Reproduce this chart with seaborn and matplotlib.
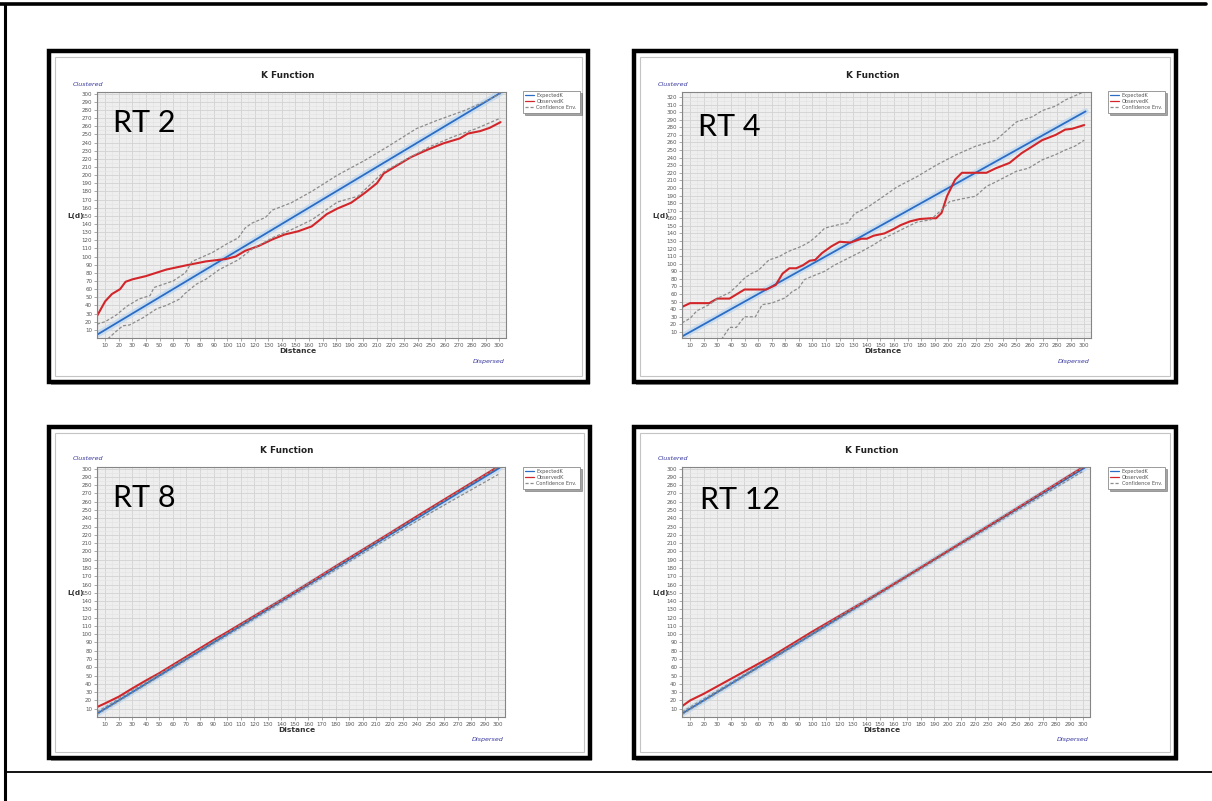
import matplotlib
matplotlib.use("Agg")
import matplotlib.pyplot as plt
from matplotlib.patches import Rectangle
from matplotlib.lines import Line2D
import seaborn as sns

# ---------------- data ----------------
panel_names = ["RT 2", "RT 4", "RT 8", "RT 12"]
legend_labels = ["ExpectedK", "ObservedK", "Confidence Env."]
x_ticks = list(range(10, 301, 10))
y_ticks_300 = list(range(10, 301, 10))
y_ticks_320 = list(range(10, 321, 10))

# RT 2
rt2_exp_x = [4, 301]
rt2_exp_y = [4, 301]
rt2_obs_x = [4, 10, 15, 21, 25, 30, 40, 55, 69, 84, 94, 99, 106, 113, 123, 133, 142, 152, 162, 168,
             173, 181, 191, 201, 210, 215, 225, 235, 247, 259, 271, 277, 286, 293, 301]
rt2_obs_y = [27, 45, 54, 60, 69, 72, 76, 84, 89, 94, 96, 97, 100, 107, 113, 121, 127, 131, 137, 145,
             152, 159, 166, 178, 190, 202, 212, 222, 231, 239, 245, 251, 254, 258, 265]
rt2_up_x = [4, 10, 18, 26, 35, 43, 46, 60, 69, 74, 89, 99, 108, 113, 118, 128, 133, 147, 162, 181,
            201, 218, 239, 254, 274, 288, 301]
rt2_up_y = [17, 20, 28, 39, 48, 52, 62, 70, 80, 94, 105, 115, 123, 135, 141, 148, 157, 166, 180, 200,
            218, 235, 257, 267, 279, 289, 300]
rt2_lo_x = [12, 18, 23, 28, 38, 48, 55, 65, 69, 77, 84, 94, 108, 118, 133, 147, 162, 181, 196, 215,
            230, 249, 266, 283, 301]
rt2_lo_y = [-1, 8, 15, 16, 25, 36, 40, 48, 55, 66, 72, 84, 96, 109, 123, 133, 145, 167, 174, 204,
            218, 235, 247, 257, 270]

# RT 4
rt4_exp_x = [4, 301]
rt4_exp_y = [4, 301]
rt4_obs_x = [4, 10, 24, 30, 39, 50, 63, 66, 73, 78, 83, 88, 93, 98, 102, 107, 114, 120, 128, 136,
             140, 145, 153, 160, 165, 172, 179, 187, 191, 195, 199, 205, 210, 218, 228, 235, 245,
             254, 262, 269, 279, 286, 291, 300]
rt4_obs_y = [43, 48, 48, 54, 54, 66, 66, 66, 72, 87, 94, 94, 98, 104, 105, 114, 123, 129, 128, 133,
             133, 137, 140, 146, 151, 156, 159, 160, 160, 167, 189, 211, 220, 220, 220, 226, 233,
             246, 255, 263, 270, 277, 278, 283]
rt4_up_x = [4, 10, 15, 24, 32, 39, 44, 50, 55, 60, 68, 75, 82, 92, 98, 104, 109, 118, 126, 131,
            141, 150, 162, 177, 191, 206, 220, 235, 250, 262, 269, 279, 286, 300]
rt4_up_y = [22, 28, 38, 46, 56, 62, 70, 81, 87, 91, 105, 109, 116, 123, 129, 138, 147, 151, 154, 166,
            175, 186, 201, 215, 230, 244, 255, 263, 287, 294, 302, 308, 316, 327]
rt4_lo_x = [33, 39, 44, 50, 58, 63, 70, 80, 85, 90, 94, 102, 109, 116, 126, 136, 145, 153, 160, 170,
            177, 187, 195, 201, 211, 220, 228, 235, 250, 259, 269, 279, 286, 293, 300]
rt4_lo_y = [0, 16, 16, 30, 30, 46, 48, 55, 63, 68, 79, 85, 90, 98, 107, 116, 125, 134, 140, 149,
            155, 158, 171, 182, 186, 189, 202, 208, 222, 226, 237, 244, 250, 255, 263]

# RT 8
rt8_exp_x = [4, 301]
rt8_exp_y = [4, 301]
rt8_obs_x = [4, 10, 20, 30, 40, 50, 60, 70, 80, 90, 100, 120, 140, 160, 180, 200, 220, 240, 260, 280, 300]
rt8_obs_y = [12, 16.5, 24.5, 34.5, 44, 53, 63, 73, 83, 93, 102.5, 122, 141.5, 161.5, 182, 202, 222,
             242.5, 262.5, 282.5, 302.5]
rt8_up_x = [4, 50, 100, 150, 200, 250, 300]
rt8_up_y = [6, 52, 101.5, 151.5, 201.5, 251.5, 302]
rt8_lo_x = [4, 50, 100, 150, 200, 250, 300]
rt8_lo_y = [3, 49, 98.5, 148, 197.5, 246.5, 293]

# RT 12
rt12_exp_x = [4, 301]
rt12_exp_y = [4, 301]
rt12_obs_x = [4, 10, 20, 30, 40, 50, 60, 70, 80, 100, 120, 140, 160, 200, 250, 300]
rt12_obs_y = [13, 20, 28, 37, 46, 55, 64, 73, 83, 103, 122, 141, 160.5, 200.5, 251, 302]
rt12_up_x = [4, 50, 100, 150, 200, 250, 300]
rt12_up_y = [6, 51.5, 101.5, 151.5, 201.5, 251.5, 301.5]
rt12_lo_x = [4, 50, 100, 150, 200, 250, 300]
rt12_lo_y = [3, 49, 99, 148.5, 198.5, 248, 297]

# ---------------- layout (pixels) ----------------
W, H = 1212, 801
sns.set_theme(style="white")
plt.rcParams["font.family"] = ["DejaVu Sans"]

fig = plt.figure(figsize=(W / 100, H / 100), dpi=100)
fig.patch.set_facecolor("white")


def fx(px):
    return px / W


def fy(py):
    return 1 - py / H


panels = [
    dict(name=panel_names[0], frame=(49, 51, 588, 382), plot=(97, 92, 506, 338), ylim=(0, 302),
         yt=y_ticks_300, exp=(rt2_exp_x, rt2_exp_y), obs=(rt2_obs_x, rt2_obs_y),
         up=(rt2_up_x, rt2_up_y), lo=(rt2_lo_x, rt2_lo_y), leg=(520, 88), rt=(113, 123)),
    dict(name=panel_names[1], frame=(634, 51, 1176, 382), plot=(682, 92, 1091, 338), ylim=(2, 326.6),
         yt=y_ticks_320, exp=(rt4_exp_x, rt4_exp_y), obs=(rt4_obs_x, rt4_obs_y),
         up=(rt4_up_x, rt4_up_y), lo=(rt4_lo_x, rt4_lo_y), leg=(1105, 88), rt=(698, 127)),
    dict(name=panel_names[2], frame=(49, 427, 590, 758), plot=(97, 467, 505, 717), ylim=(0, 302),
         yt=y_ticks_300, exp=(rt8_exp_x, rt8_exp_y), obs=(rt8_obs_x, rt8_obs_y),
         up=(rt8_up_x, rt8_up_y), lo=(rt8_lo_x, rt8_lo_y), leg=(520, 464), rt=(113, 498)),
    dict(name=panel_names[3], frame=(634, 427, 1176, 758), plot=(682, 467, 1090, 717), ylim=(0, 302),
         yt=y_ticks_300, exp=(rt12_exp_x, rt12_exp_y), obs=(rt12_obs_x, rt12_obs_y),
         up=(rt12_up_x, rt12_up_y), lo=(rt12_lo_x, rt12_lo_y), leg=(1105, 464), rt=(700, 500)),
]

# page lines
fig.add_artist(Line2D([0, fx(1206)], [fy(4), fy(4)], color="black", lw=2.6))
fig.add_artist(Line2D([fx(5), fx(5)], [0, fy(4)], color="black", lw=2.2))
fig.add_artist(Line2D([fx(5), 1], [fy(772), fy(772)], color="black", lw=1.3))

BLUE = "#2b6cc4"
RED = "#d2262b"
GRAY = "#8c8c8c"
TXT = "#555555"
PURPLE = "#3a3aa0"

for p in panels:
    x0, y0, x1, y1 = p["frame"]
    # shadow
    fig.add_artist(Rectangle((fx(x0 + 2), fy(y1 + 3)), fx(x1 - x0), (y1 - y0) / H,
                             transform=fig.transFigure, facecolor="#9a9a9a", edgecolor="none",
                             zorder=-6))
    fig.add_artist(Rectangle((fx(x0), fy(y1)), fx(x1 - x0), (y1 - y0) / H,
                             transform=fig.transFigure, facecolor="white", edgecolor="black",
                             lw=3.2, zorder=-5))
    fig.add_artist(Rectangle((fx(x0 + 6), fy(y1 - 6)), fx(x1 - x0 - 12), (y1 - y0 - 12) / H,
                             transform=fig.transFigure, facecolor="none", edgecolor="#c4c4c4",
                             lw=0.8, zorder=-4))

    px0, py0, px1, py1 = p["plot"]
    ax = fig.add_axes([fx(px0), fy(py1), fx(px1 - px0), (py1 - py0) / H])
    ax.set_facecolor("#eeeeee")

    ex, ey = p["exp"]
    sns.lineplot(x=ex, y=ey, ax=ax, color="#bcd6f0", lw=4.5, alpha=0.7, estimator=None, sort=False)
    sns.lineplot(x=ex, y=ey, ax=ax, color=BLUE, lw=1.3, estimator=None, sort=False,
                 label=legend_labels[0])
    ox, oy = p["obs"]
    sns.lineplot(x=ox, y=oy, ax=ax, color=RED, lw=1.5, estimator=None, sort=False,
                 label=legend_labels[1])
    ux, uy = p["up"]
    sns.lineplot(x=ux, y=uy, ax=ax, color=GRAY, lw=0.9, linestyle=(0, (2.5, 1.5)),
                 estimator=None, sort=False, label=legend_labels[2])
    lx, ly = p["lo"]
    sns.lineplot(x=lx, y=ly, ax=ax, color=GRAY, lw=0.9, linestyle=(0, (2.5, 1.5)),
                 estimator=None, sort=False)

    ax.set_xlim(4, 301)
    ax.set_ylim(*p["ylim"])
    ax.set_xticks(x_ticks)
    ax.set_yticks(p["yt"])
    ax.set_xticks([t - 5 for t in x_ticks] + [305], minor=True)
    ax.set_yticks([t - 5 for t in p["yt"]], minor=True)
    ax.grid(True, which="major", color="#d2d2d2", lw=0.6)
    ax.grid(True, which="minor", color="#e3e3e3", lw=0.4)
    ax.set_axisbelow(True)
    ax.tick_params(axis="both", which="major", labelsize=4.0, labelcolor=TXT, length=2,
                   width=0.5, color="#888888", pad=1.5, direction="out")
    ax.tick_params(axis="both", which="minor", length=0)
    ax.tick_params(left=True, bottom=True)
    for s in ax.spines.values():
        s.set_color("#858585")
        s.set_linewidth(0.8)
    ax.set_xlabel("")
    ax.set_ylabel("")

    lx0, ly0 = p["leg"]
    leg = ax.legend(loc="upper left", bbox_to_anchor=(fx(lx0), fy(ly0)),
                    bbox_transform=fig.transFigure, fontsize=3.6, frameon=True,
                    handlelength=1.8, handletextpad=0.5, borderpad=0.5, labelspacing=0.2,
                    fancybox=False, shadow=True)
    leg.get_frame().set_edgecolor("#8a8a8a")
    leg.get_frame().set_linewidth(0.6)
    for t in leg.get_texts():
        t.set_color(TXT)
    for ln in leg.get_lines():
        ln.set_linewidth(0.9)

    cx = (px0 + px1) / 2
    fig.text(fx(cx - 14), fy(py0 - 17), "K Function", fontsize=6.4, fontweight="bold",
             color="#222222", ha="center", va="center")
    fig.text(fx(px0 - 24), fy(py0 - 8), "Clustered", fontsize=4.6, style="italic",
             color=PURPLE, ha="left", va="center")
    fig.text(fx(px1 - 17), fy(py1 + 23), "Dispersed", fontsize=4.6, style="italic",
             color=PURPLE, ha="center", va="center")
    fig.text(fx(cx - 4), fy(py1 + 13), "Distance", fontsize=5.4, fontweight="bold",
             color="#333333", ha="center", va="center")
    fig.text(fx(px0 - 13), fy((py0 + py1) / 2 + 1), "L(d)", fontsize=5.2, fontweight="bold",
             color="#333333", ha="right", va="center")
    rx, ry = p["rt"]
    fig.text(fx(rx), fy(ry), p["name"], fontsize=22, family=["Lato", "DejaVu Sans"],
             color="black", ha="left", va="center")

fig.savefig("out.png", dpi=100, facecolor="white")
